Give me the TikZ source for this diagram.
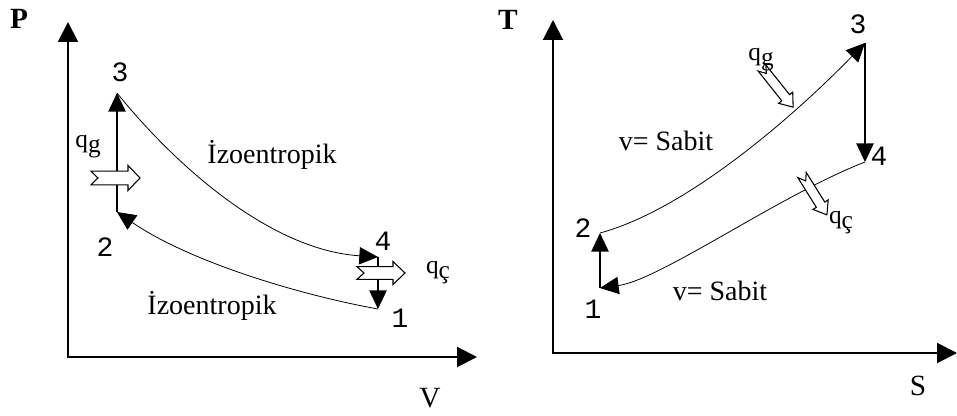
\documentclass[tikz,border=0pt]{standalone}
\usepackage{fontspec}
\setmainfont{Liberation Serif}
\newfontfamily\digitfont{Liberation Mono}
\usetikzlibrary{arrows.meta}

\tikzset{
    axis/.style={line width=1.5pt,{Triangle[length=15pt,width=15pt]}-{Triangle[length=15pt,width=15pt]}},
    cyclevert/.style={line width=1.2pt,-{Triangle[length=14pt,width=13pt]}},
    cyclecurve/.style={line width=0.6pt,-{Triangle[length=14pt,width=13pt]}},
    pointlbl/.style={font=\digitfont\fontsize{21}{21}\selectfont,inner sep=0pt},
    curvelbl/.style={font=\fontsize{21}{21}\selectfont,inner sep=0pt},
    axislbl/.style={font=\fontsize{22}{22}\selectfont,inner sep=0pt},
    heatlbl/.style={font=\fontsize{19}{19}\selectfont,inner sep=0pt},
}

\begin{document}
\begin{tikzpicture}[x=0.75pt,y=-0.75pt]
        % Heat arrow macro:
        % #1 = tail point
        % #2 = angle
        % #3 = length
        % #4 = half width of the head
        \newcommand{\heatarrow}[4]{%
            \begin{scope}[shift={#1},rotate=#2]
                \filldraw[fill=white,line width=0.8pt]
                    (0,{-0.55*#4}) -- (7,0) -- (0,{0.55*#4}) -- ({#3-12},{0.55*#4})
                    -- ({#3-12},{#4}) -- (#3,0) -- ({#3-12},{-#4}) -- ({#3-12},{-0.55*#4}) -- cycle;
            \end{scope}
        }

        \useasboundingbox (0,0) rectangle (957,416);

        % P-V axes
        \coordinate (o1) at (68,357);
        \coordinate (pP) at (68,22);
        \coordinate (pV) at (477,357);
        \draw[axis] (pP) -- (o1) -- (pV);
        \node[axislbl] (lP) at (19,19) {\textbf{P}};
        \node[axislbl] (lV) at (430,398) {V};

        % P-V cycle points
        \coordinate (a1) at (378,309);
        \coordinate (a2) at (117,212);
        \coordinate (a3) at (117,93);
        \coordinate (a4) at (378,257);

        % P-V cycle
        \draw[cyclevert] (a2) -- (a3);
        \draw[cyclevert] (a4) -- (a1);
        \draw[cyclecurve] (a3) .. controls (175,165) and (270,250) .. (a4);
        \draw[cyclecurve] (a1) .. controls (300,295) and (190,262) .. (a2);

        % heat in and out
        \heatarrow{(91,178)}{0}{49}{12.5}
        \heatarrow{(357,273)}{0}{48}{11.5}

        % P-V labels
        \node[pointlbl] (la1) at (400,318) {1};
        \node[pointlbl] (la2) at (105,247) {2};
        \node[pointlbl] (la3) at (120,72) {3};
        \node[pointlbl] (la4) at (383,241) {4};
        \node[heatlbl] (lqg1) at (88,147) {q\raisebox{-0.2em}{g}};
        \node[heatlbl] (lqc1) at (438,273) {q\raisebox{-0.2em}{ç}};
        \node[curvelbl] (lis1) at (272,155) {İzoentropik};
        \node[curvelbl] (lis2) at (212,306) {İzoentropik};

        % T-S axes
        \coordinate (o2) at (553,353);
        \coordinate (pT) at (553,20);
        \coordinate (pS) at (957,353);
        \draw[axis] (pT) -- (o2) -- (pS);
        \node[axislbl] (lT) at (508,20) {\textbf{T}};
        \node[axislbl] (lS) at (918,386) {S};

        % T-S cycle points
        \coordinate (b1) at (600,288);
        \coordinate (b2) at (600,233);
        \coordinate (b3) at (865,43);
        \coordinate (b4) at (865,162);

        % T-S cycle
        \draw[cyclevert] (b1) -- (b2);
        \draw[cyclevert] (b3) -- (b4);
        \draw[cyclecurve] (b2) .. controls (685,210) and (790,120) .. (b3);
        \draw[cyclecurve] (b4) .. controls (780,195) and (660,280) .. (b1);

        % heat in and out
        \heatarrow{(762,68)}{-51.5}{50}{9}
        \heatarrow{(802,175)}{-58}{47}{9}

        % T-S labels
        \node[pointlbl] (lb1) at (593,309) {1};
        \node[pointlbl] (lb2) at (583,228) {2};
        \node[pointlbl] (lb3) at (858,24) {3};
        \node[pointlbl] (lb4) at (879,156) {4};
        \node[heatlbl] (lqg2) at (761,60) {q\raisebox{-0.2em}{g}};
        \node[heatlbl] (lqc2) at (841,223) {q\raisebox{-0.2em}{ç}};
        \node[curvelbl] (lsb1) at (666,141) {v= Sabit};
        \node[curvelbl] (lsb2) at (720,291) {v= Sabit};
\end{tikzpicture}
\end{document}
